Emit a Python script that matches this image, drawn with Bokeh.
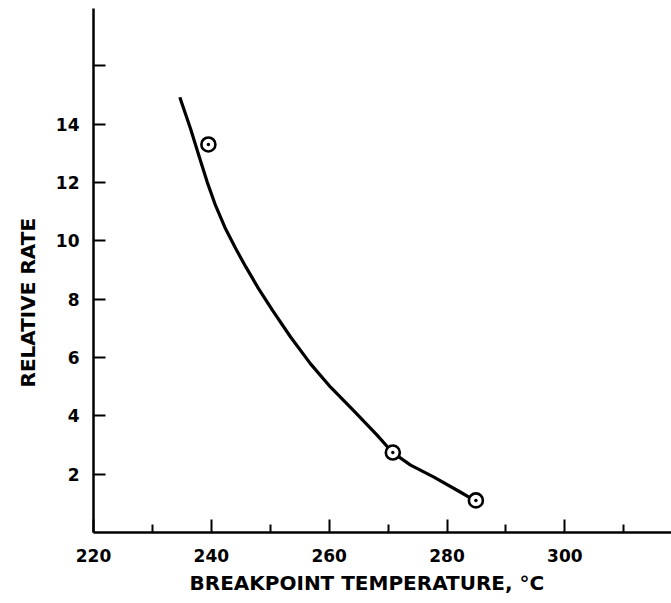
from bokeh.plotting import figure
from bokeh.models import FixedTicker, Range1d, Title
from bokeh.embed import file_html
from bokeh.resources import INLINE

# data
point_temp = [239.5, 270.8, 284.9]
point_rate = [13.3, 2.74, 1.1]
curve_temp = [234.65, 236.47, 237.88, 239.30, 240.71, 242.41, 244.11, 245.81, 248.01, 250.39,
              253.45, 256.84, 260.24, 264.19, 268.17, 270.71, 273.82, 277.78, 282.31, 283.72]
curve_rate = [14.92, 13.84, 12.92, 12.01, 11.21, 10.41, 9.74, 9.12, 8.36, 7.61,
              6.70, 5.78, 4.98, 4.17, 3.33, 2.75, 2.31, 1.90, 1.38, 1.21]
x_major = [220, 240, 260, 280, 300]
x_minor = [230, 250, 270, 290, 310]
y_major = [2, 4, 6, 8, 10, 12, 14, 16]
y_labels = {16: ""}

FONT = "DejaVu Sans"

p = figure(width=671, height=603, output_backend="svg", toolbar_location=None,
           x_range=Range1d(220, 318.1), y_range=Range1d(0, 17.96),
           min_border_left=93, min_border_bottom=71, min_border_top=8, min_border_right=0)
p.outline_line_color = None
p.grid.visible = False
p.background_fill_color = "white"

p.line(curve_temp, curve_rate, line_width=3.2, line_color="black", line_join="round")
p.scatter(point_temp, point_rate, marker="circle_dot", size=14, line_width=2.6,
          line_color="black", fill_color="white")

xa = p.xaxis[0]
xa.ticker = FixedTicker(ticks=x_major, minor_ticks=x_minor)
xa.axis_line_width = 2.5
xa.major_tick_in = 13
xa.major_tick_out = 0
xa.major_tick_line_width = 2
xa.minor_tick_in = 8
xa.minor_tick_out = 0
xa.minor_tick_line_width = 2
xa.major_label_standoff = 16
xa.major_label_text_font = FONT
xa.major_label_text_font_style = "bold"
xa.major_label_text_font_size = "17px"
xa.major_label_text_color = "black"
xa.axis_label = None

ya = p.yaxis[0]
ya.ticker = FixedTicker(ticks=y_major, minor_ticks=[])
ya.major_label_overrides = y_labels
ya.axis_line_width = 2.5
ya.major_tick_in = 12
ya.major_tick_out = 0
ya.major_tick_line_width = 2
ya.minor_tick_in = 0
ya.minor_tick_out = 0
ya.major_label_standoff = 14
ya.major_label_text_font = FONT
ya.major_label_text_font_style = "bold"
ya.major_label_text_font_size = "17px"
ya.major_label_text_color = "black"
ya.axis_label = None

xtitle = Title(text="BREAKPOINT TEMPERATURE, \u00b0C", align="left", offset=96, text_font=FONT,
               text_font_style="bold", text_font_size="20px", text_color="black",
               standoff=9)
p.add_layout(xtitle, "below")

ytitle = Title(text="RELATIVE RATE", align="left", offset=145, text_font=FONT,
               text_font_style="bold", text_font_size="20px", text_color="black",
               standoff=26)
p.add_layout(ytitle, "left")

open("out.html", "w").write(file_html(p, INLINE))
